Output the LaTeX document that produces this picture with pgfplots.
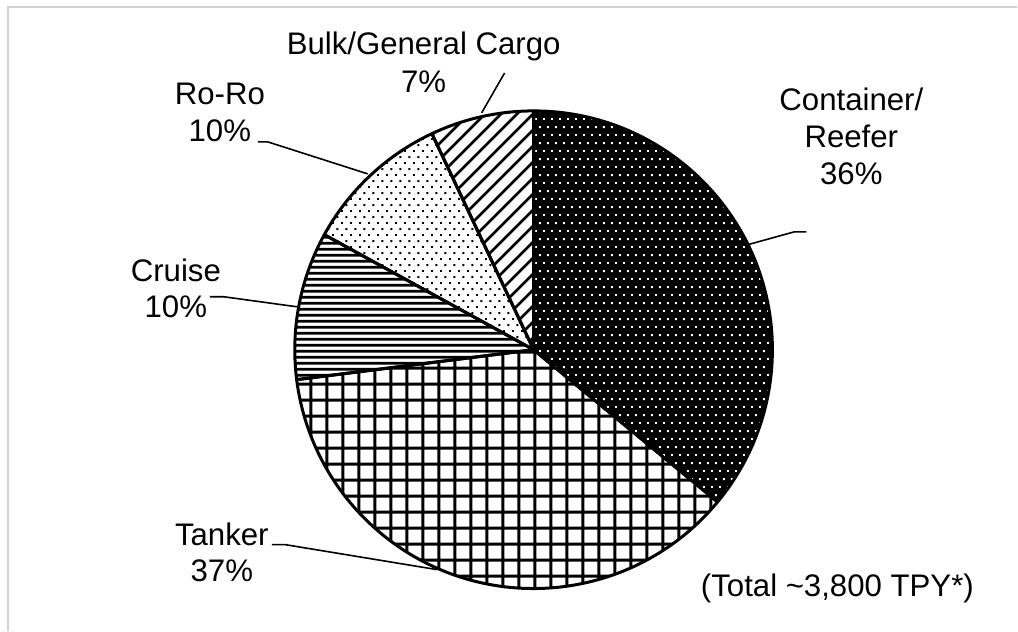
\documentclass[border=0pt]{standalone}
\usepackage{fontspec}
\setmainfont{Liberation Sans}
\usepackage{pgfplots}
\pgfplotsset{compat=1.18}
\usetikzlibrary{patterns.meta}

% patterns, sizes in pt (1 px of the reference = 0.5pt)
\pgfdeclarepattern{name=cdots, type=uncolored,
  bottom left={\pgfpoint{0pt}{0pt}}, top right={\pgfpoint{4pt}{8pt}},
  tile size={\pgfpoint{4pt}{8pt}},
  code={\pgfpathrectangle{\pgfpoint{0pt}{0pt}}{\pgfpoint{1pt}{1pt}}
        \pgfpathrectangle{\pgfpoint{2pt}{4pt}}{\pgfpoint{1pt}{1pt}}
        \pgfusepath{fill}}}
\pgfdeclarepattern{name=rdots, type=uncolored,
  bottom left={\pgfpoint{0pt}{0pt}}, top right={\pgfpoint{4.5pt}{6pt}},
  tile size={\pgfpoint{4.5pt}{6pt}},
  code={\pgfpathrectangle{\pgfpoint{0pt}{0pt}}{\pgfpoint{0.9pt}{0.9pt}}
        \pgfpathrectangle{\pgfpoint{2.25pt}{3pt}}{\pgfpoint{0.9pt}{0.9pt}}
        \pgfusepath{fill}}}
\pgfdeclarepattern{name=grid8, type=uncolored,
  bottom left={\pgfpoint{0pt}{0pt}}, top right={\pgfpoint{8pt}{8pt}},
  tile size={\pgfpoint{8pt}{8pt}},
  code={\pgfsetlinewidth{1.5pt}
        \pgfpathmoveto{\pgfpoint{4pt}{0pt}}\pgfpathlineto{\pgfpoint{4pt}{8pt}}
        \pgfpathmoveto{\pgfpoint{0pt}{4pt}}\pgfpathlineto{\pgfpoint{8pt}{4pt}}
        \pgfusepath{stroke}}}
\pgfdeclarepattern{name=hlines, type=uncolored,
  bottom left={\pgfpoint{0pt}{0pt}}, top right={\pgfpoint{4pt}{3.1pt}},
  tile size={\pgfpoint{4pt}{3.1pt}},
  code={\pgfsetlinewidth{1.5pt}
        \pgfpathmoveto{\pgfpoint{-1pt}{1.55pt}}\pgfpathlineto{\pgfpoint{5pt}{1.55pt}}
        \pgfusepath{stroke}}}
\pgfdeclarepattern{name=nelines, type=uncolored,
  bottom left={\pgfpoint{0pt}{0pt}}, top right={\pgfpoint{8pt}{8pt}},
  tile size={\pgfpoint{8pt}{8pt}},
  code={\pgfsetlinewidth{1.4pt}
        \pgfpathmoveto{\pgfpoint{-1pt}{-1pt}}\pgfpathlineto{\pgfpoint{9pt}{9pt}}
        \pgfpathmoveto{\pgfpoint{-1pt}{7pt}}\pgfpathlineto{\pgfpoint{1pt}{9pt}}
        \pgfpathmoveto{\pgfpoint{7pt}{-1pt}}\pgfpathlineto{\pgfpoint{9pt}{1pt}}
        \pgfusepath{stroke}}}

% one slice: #1 share before it (%), #2 share (%)
\newcommand\slice[2]{(axis cs:534,350) -- ++({90-3.6*(#1)}:119.5pt)
  arc[start angle={90-3.6*(#1)}, end angle={90-3.6*(#1+#2)}, radius=119.5pt] -- cycle}
\tikzset{lbl/.style={font=\fontsize{15.6}{18.5}\selectfont, anchor=base, inner sep=0pt}}

\begin{document}
\begin{tikzpicture}
\begin{axis}[
  width=509pt, height=315.5pt, scale only axis,
  xmin=0, xmax=1018, ymin=0, ymax=631, y dir=reverse,
  hide axis, clip=false,
]
\path (axis cs:0,0) rectangle (axis cs:1018,631);
\draw[black!18, line width=0.8pt] (axis cs:8,631) -- (axis cs:8,7) -- (axis cs:1018,7);

% Container/Reefer 36
\fill[black] \slice{0}{36};
\fill[pattern=cdots, pattern color=white] \slice{0}{36};
% Tanker 37
\fill[pattern=grid8, pattern color=black] \slice{36}{37};
% Cruise 10
\fill[pattern=hlines, pattern color=black] \slice{73}{10};
% Ro-Ro 10
\fill[pattern=rdots, pattern color=black] \slice{83}{10};
% Bulk/General Cargo 7
\fill[pattern=nelines, pattern color=black] \slice{93}{7};

\draw[line width=1.5pt, line join=round] \slice{0}{36};
\draw[line width=1.5pt, line join=round] \slice{36}{37};
\draw[line width=1.5pt, line join=round] \slice{73}{10};
\draw[line width=1.5pt, line join=round] \slice{83}{10};
\draw[line width=1.5pt, line join=round] \slice{93}{7};

% leader lines
\draw[line width=0.8pt] (axis cs:505,73) -- (axis cs:482,113);
\draw[line width=0.8pt] (axis cs:258,142) -- (axis cs:268,142) -- (axis cs:368,174);
\draw[line width=0.8pt] (axis cs:807,232) -- (axis cs:795,232) -- (axis cs:748,245);
\draw[line width=0.8pt] (axis cs:210,297) -- (axis cs:224,297) -- (axis cs:297,307);
\draw[line width=0.8pt] (axis cs:272,545) -- (axis cs:285,545) -- (axis cs:437,570);

% labels
\node[lbl] at (axis cs:424,55) {Bulk/General Cargo};
\node[lbl] at (axis cs:424,93) {7\%};
\node[lbl] at (axis cs:220,105) {Ro-Ro};
\node[lbl] at (axis cs:220,142) {10\%};
\node[lbl] at (axis cs:852,111) {Container/};
\node[lbl] at (axis cs:852,148) {Reefer};
\node[lbl] at (axis cs:852,185) {36\%};
\node[lbl] at (axis cs:176,282) {Cruise};
\node[lbl] at (axis cs:176,318) {10\%};
\node[lbl] at (axis cs:222,546) {Tanker};
\node[lbl] at (axis cs:222,582) {37\%};
\node[lbl, anchor=base east] at (axis cs:975,597) {(Total \textasciitilde3,800 TPY*)};
\end{axis}
\end{tikzpicture}
\end{document}
